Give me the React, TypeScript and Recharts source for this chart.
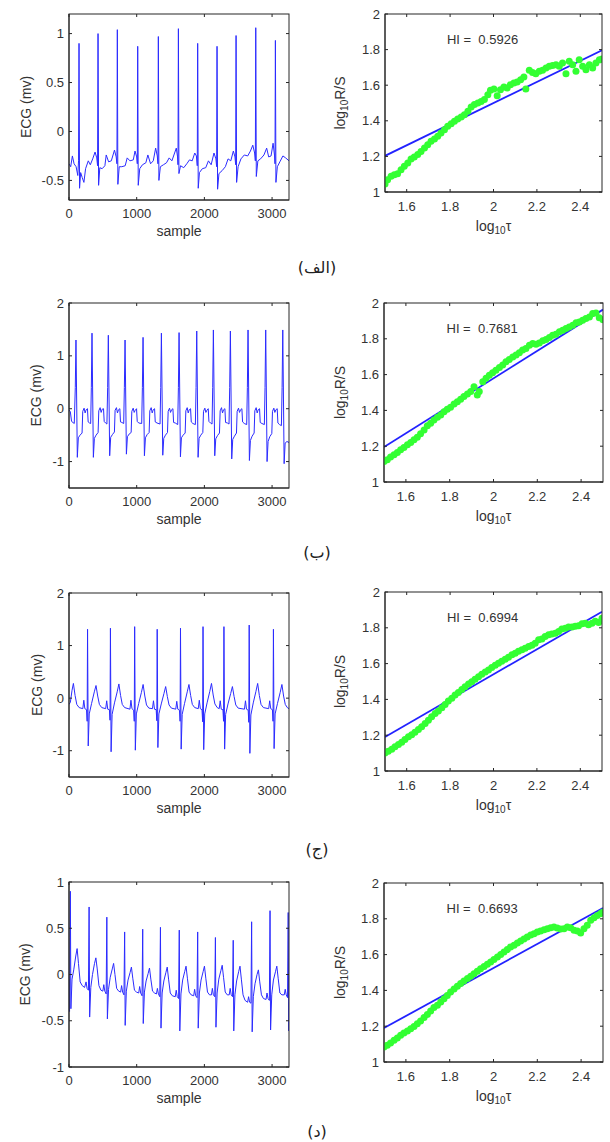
import React from 'react';
import { LineChart, Line, ComposedChart, Scatter, XAxis, YAxis, ReferenceDot, Label } from 'recharts';

const FONT = '"Liberation Sans", Arial, Helvetica, sans-serif';
const AXIS = '#262626';
const TXT = '#333333';
const ECG_BLUE = '#2b2bff';
const FIT_BLUE = '#2222ff';
const GREEN = '#33ff33';
const TL = 3; // inward tick length

// ---------- ECG traces: [sample, mV] ----------
const ecgA: [number, number][] = [
  [0,-0.33],[25,-0.36],[50,-0.25],[75,-0.33],[105,-0.36],[130,-0.45],[141,-0.3],
  [148,0.90],[156,-0.58],[172,-0.42],[195,-0.47],[220,-0.52],[245,-0.38],[285,-0.30],[315,-0.34],[350,-0.28],[385,-0.21],[410,-0.27],[422,-0.35],
  [429,1.00],[437,-0.55],[455,-0.37],[490,-0.38],[530,-0.35],[550,-0.24],[585,-0.31],[625,-0.30],[672,-0.19],[697,-0.26],[708,-0.33],
  [714,1.04],[722,-0.54],[742,-0.36],[780,-0.36],[830,-0.35],[860,-0.27],[900,-0.30],[950,-0.29],[975,-0.20],[1000,-0.26],[1009,-0.33],
  [1015,0.87],[1023,-0.55],[1045,-0.38],[1085,-0.34],[1135,-0.32],[1165,-0.24],[1205,-0.33],[1245,-0.30],[1280,-0.17],[1304,-0.25],[1314,-0.33],
  [1320,0.97],[1328,-0.50],[1350,-0.36],[1395,-0.34],[1440,-0.32],[1480,-0.27],[1520,-0.30],[1560,-0.22],[1585,-0.17],[1604,-0.26],[1610,-0.34],
  [1616,1.05],[1624,-0.43],[1648,-0.35],[1695,-0.37],[1740,-0.33],[1780,-0.29],[1820,-0.30],[1858,-0.22],[1882,-0.25],[1895,-0.35],
  [1901,0.90],[1909,-0.58],[1927,-0.42],[1970,-0.38],[2020,-0.37],[2060,-0.30],[2100,-0.34],[2142,-0.22],[2170,-0.28],[2181,-0.36],
  [2187,0.87],[2195,-0.59],[2215,-0.43],[2262,-0.40],[2310,-0.36],[2350,-0.28],[2390,-0.30],[2428,-0.20],[2452,-0.26],[2462,-0.34],
  [2468,0.98],[2476,-0.52],[2498,-0.36],[2540,-0.28],[2590,-0.24],[2640,-0.25],[2680,-0.20],[2715,-0.14],[2742,-0.22],[2753,-0.30],
  [2759,1.06],[2767,-0.46],[2790,-0.30],[2830,-0.28],[2880,-0.24],[2920,-0.17],[2950,-0.26],[2985,-0.25],[3015,-0.12],[3037,-0.25],[3043,-0.33],
  [3049,0.93],[3057,-0.52],[3078,-0.36],[3115,-0.31],[3160,-0.25],[3200,-0.27],[3250,-0.30],
];

const ecgB: [number, number][] = [
  [0,-0.02],[20,-0.06],[38,-0.24],[78,-0.28],[93,0.40],
  [103,1.30],[123,-0.92],[138,-0.55],[163,-0.50],[193,-0.46],[203,-0.05],[223,0.01],[238,-0.08],[253,-0.02],[273,0.00],[283,-0.25],[303,-0.27],[320,-0.28],[330,0.40],
  [340,1.43],[360,-0.92],[375,-0.56],[400,-0.50],[430,-0.45],[440,-0.04],[460,0.02],[475,-0.07],[490,-0.01],[510,0.00],[520,-0.24],[540,-0.27],[560,-0.29],[571,0.40],
  [581,1.39],[601,-0.89],[616,-0.54],[641,-0.49],[671,-0.44],[681,-0.03],[701,0.02],[716,-0.08],[731,-0.02],[751,0.00],[761,-0.25],[781,-0.26],[808,-0.28],[818,0.40],
  [828,1.30],[848,-0.86],[863,-0.53],[888,-0.48],[918,-0.45],[928,-0.05],[948,0.01],[963,-0.07],[978,-0.03],[998,0.00],[1008,-0.24],[1030,-0.27],[1074,-0.28],[1084,0.40],
  [1094,1.35],[1114,-0.89],[1129,-0.55],[1154,-0.49],[1184,-0.45],[1194,-0.04],[1214,0.02],[1229,-0.08],[1244,-0.02],[1264,0.00],[1274,-0.25],[1300,-0.27],[1345,-0.29],[1355,0.40],
  [1365,1.43],[1385,-0.88],[1400,-0.56],[1425,-0.50],[1455,-0.45],[1465,-0.05],[1485,0.01],[1500,-0.07],[1515,-0.02],[1535,0.00],[1545,-0.26],[1570,-0.27],[1606,-0.30],[1616,0.40],
  [1626,1.44],[1646,-0.91],[1661,-0.55],[1686,-0.50],[1716,-0.46],[1726,-0.04],[1746,0.02],[1761,-0.08],[1776,-0.02],[1796,0.00],[1806,-0.25],[1830,-0.28],[1867,-0.30],[1877,0.40],
  [1887,1.47],[1907,-0.92],[1922,-0.56],[1947,-0.50],[1977,-0.45],[1987,-0.05],[2007,0.01],[2022,-0.07],[2037,-0.03],[2057,0.00],[2067,-0.24],[2090,-0.27],[2113,-0.29],[2123,0.40],
  [2133,1.49],[2153,-0.89],[2168,-0.57],[2193,-0.51],[2223,-0.46],[2233,-0.04],[2253,0.02],[2268,-0.08],[2283,-0.02],[2303,0.00],[2313,-0.26],[2340,-0.27],[2364,-0.29],[2374,0.40],
  [2384,1.47],[2404,-0.95],[2419,-0.58],[2444,-0.52],[2474,-0.46],[2484,-0.05],[2504,0.01],[2519,-0.07],[2534,-0.02],[2554,0.00],[2564,-0.25],[2590,-0.28],[2625,-0.30],[2635,0.40],
  [2645,1.49],[2665,-0.98],[2680,-0.60],[2705,-0.52],[2735,-0.46],[2745,-0.04],[2765,0.02],[2780,-0.08],[2795,-0.02],[2815,0.00],[2825,-0.26],[2850,-0.28],[2886,-0.30],[2896,0.40],
  [2906,1.49],[2926,-1.00],[2941,-0.62],[2966,-0.53],[2996,-0.47],[3006,-0.05],[3026,0.01],[3041,-0.07],[3056,-0.02],[3076,0.00],[3086,-0.27],[3110,-0.30],[3138,-0.32],[3148,0.40],
  [3158,1.49],[3178,-1.04],[3193,-0.65],[3220,-0.62],[3250,-0.64],
];

const ecgC: [number, number][] = [
  [0,-0.12],[20,-0.08],[45,0.15],[65,0.28],[90,0.05],[115,-0.12],[150,-0.18],[204,-0.20],[219,-0.04],[234,-0.20],[259,-0.22],[268,-0.44],
  [274,1.31],[284,-0.91],[299,-0.30],[334,-0.10],[374,0.12],[399,0.24],[424,0.04],[449,-0.12],[484,-0.18],[542,-0.20],[557,-0.05],[572,-0.21],[597,-0.22],[606,-0.42],
  [612,1.33],[622,-1.02],[637,-0.31],[672,-0.09],[712,0.12],[737,0.27],[762,0.05],[787,-0.12],[822,-0.18],[900,-0.21],[915,-0.04],[930,-0.20],[955,-0.23],[964,-0.44],
  [970,1.36],[980,-0.99],[995,-0.30],[1030,-0.10],[1070,0.11],[1095,0.26],[1120,0.04],[1145,-0.13],[1180,-0.19],[1233,-0.20],[1248,-0.05],[1263,-0.21],[1288,-0.22],[1297,-0.43],
  [1303,1.31],[1313,-0.94],[1328,-0.30],[1363,-0.11],[1403,0.09],[1428,0.22],[1453,0.03],[1478,-0.13],[1513,-0.19],[1577,-0.21],[1592,-0.06],[1607,-0.21],[1632,-0.23],[1641,-0.44],
  [1647,1.33],[1657,-0.97],[1672,-0.31],[1707,-0.10],[1747,0.12],[1772,0.26],[1797,0.05],[1822,-0.12],[1857,-0.18],[1910,-0.20],[1925,-0.04],[1940,-0.20],[1965,-0.22],[1974,-0.45],
  [1980,1.36],[1990,-0.98],[2005,-0.30],[2040,-0.09],[2080,0.13],[2105,0.28],[2130,0.06],[2155,-0.11],[2190,-0.18],[2219,-0.20],[2234,-0.05],[2249,-0.21],[2274,-0.22],[2283,-0.44],
  [2289,1.36],[2299,-0.97],[2314,-0.31],[2349,-0.11],[2389,0.09],[2414,0.22],[2439,0.03],[2464,-0.13],[2499,-0.19],[2592,-0.21],[2607,-0.05],[2622,-0.21],[2647,-0.23],[2656,-0.46],
  [2662,1.39],[2672,-1.05],[2687,-0.32],[2722,-0.09],[2762,0.13],[2787,0.28],[2812,0.05],[2837,-0.12],[2872,-0.18],[2950,-0.20],[2965,-0.05],[2980,-0.20],[3005,-0.22],[3014,-0.44],
  [3020,1.31],[3030,-0.96],[3045,-0.30],[3080,-0.10],[3120,0.11],[3145,0.26],[3170,0.04],[3195,-0.12],[3225,-0.18],[3250,-0.20],
];

const ecgD: [number, number][] = [
  [0,-0.05],[8,-0.40],[14,0.40],[20,0.90],[28,-0.37],[45,-0.05],[70,0.05],[100,0.20],[120,0.28],[140,0.12],[165,-0.08],[195,-0.12],[230,-0.14],[252,-0.08],[267,-0.15],[287,-0.17],
  [297,0.73],[305,-0.46],[322,-0.14],[347,0.0],[377,0.12],[397,0.18],[417,0.06],[442,-0.12],[472,-0.17],[500,-0.18],[514,-0.11],[529,-0.18],[549,-0.21],
  [559,0.62],[567,-0.48],[584,-0.16],[609,-0.03],[639,0.06],[659,0.12],[679,0.0],[704,-0.15],[734,-0.18],[763,-0.19],[777,-0.12],[792,-0.19],[812,-0.22],
  [822,0.46],[830,-0.55],[847,-0.18],[872,-0.06],[902,0.02],[922,0.08],[942,-0.04],[967,-0.17],[997,-0.19],[1030,-0.20],[1044,-0.13],[1059,-0.20],[1079,-0.23],
  [1089,0.49],[1097,-0.53],[1114,-0.19],[1139,-0.07],[1169,0.01],[1189,0.07],[1209,-0.05],[1234,-0.18],[1264,-0.20],[1292,-0.21],[1306,-0.15],[1321,-0.21],[1341,-0.24],
  [1351,0.51],[1359,-0.58],[1376,-0.20],[1401,-0.07],[1431,0.02],[1451,0.08],[1471,-0.05],[1496,-0.20],[1526,-0.23],[1570,-0.24],[1584,-0.17],[1599,-0.24],[1619,-0.26],
  [1629,0.48],[1637,-0.61],[1654,-0.21],[1679,-0.06],[1709,0.03],[1729,0.09],[1749,-0.04],[1774,-0.19],[1804,-0.22],[1842,-0.23],[1856,-0.16],[1871,-0.23],[1891,-0.25],
  [1901,0.46],[1909,-0.58],[1926,-0.20],[1951,-0.06],[1981,0.03],[2001,0.09],[2021,-0.04],[2046,-0.19],[2076,-0.22],[2104,-0.22],[2118,-0.15],[2133,-0.22],[2153,-0.24],
  [2163,0.40],[2171,-0.57],[2188,-0.20],[2213,-0.05],[2243,0.04],[2263,0.10],[2283,-0.03],[2308,-0.19],[2338,-0.22],[2367,-0.22],[2381,-0.15],[2396,-0.22],[2416,-0.24],
  [2426,0.37],[2434,-0.61],[2451,-0.22],[2476,-0.07],[2506,0.03],[2526,0.09],[2546,-0.05],[2571,-0.22],[2601,-0.28],[2639,-0.30],[2653,-0.24],[2668,-0.30],[2688,-0.31],
  [2698,0.57],[2706,-0.62],[2723,-0.24],[2748,-0.10],[2778,0.0],[2798,0.05],[2818,-0.08],[2843,-0.22],[2873,-0.26],[2911,-0.27],[2925,-0.20],[2940,-0.26],[2960,-0.28],
  [2970,0.69],[2978,-0.60],[2995,-0.22],[3020,-0.06],[3050,0.03],[3070,0.09],[3090,-0.04],[3115,-0.20],[3145,-0.22],[3180,-0.22],[3194,-0.16],[3209,-0.22],[3228,-0.25],
  [3238,0.67],[3246,-0.61],[3250,-0.30],
];

const sampleTicks = [0, 1000, 2000, 3000];
const sampleMax = 3250;
const ecgYDomains: [number, number][] = [[-0.7, 1.2], [-1.5, 2], [-1.5, 2], [-1, 1]];
const ecgYTicks = [[-0.5, 0, 0.5, 1], [-1, 0, 1, 2], [-1, 0, 1, 2], [-1, -0.5, 0, 0.5, 1]];

// ---------- rescaled range: [log10 tau, log10 R/S] ----------
const rsA: [number, number][] = [
  [1.500,1.045],[1.512,1.069],[1.528,1.088],[1.543,1.097],[1.558,1.103],[1.574,1.125],[1.589,1.144],[1.605,1.163],[1.620,1.185],[1.635,1.197],
  [1.651,1.210],[1.666,1.228],[1.682,1.247],[1.697,1.266],[1.712,1.285],[1.728,1.298],[1.743,1.313],[1.758,1.331],[1.774,1.350],[1.789,1.369],
  [1.805,1.384],[1.820,1.397],[1.835,1.410],[1.851,1.421],[1.866,1.434],[1.882,1.453],[1.897,1.478],[1.912,1.491],[1.928,1.500],[1.943,1.509],
  [1.958,1.519],[1.974,1.547],[1.986,1.571],[2.002,1.579],[2.017,1.541],[2.032,1.575],[2.048,1.590],[2.063,1.584],[2.078,1.603],[2.094,1.612],
  [2.109,1.618],[2.125,1.631],[2.140,1.646],[2.149,1.579],[2.165,1.684],[2.180,1.672],[2.195,1.665],[2.211,1.678],[2.226,1.684],[2.242,1.697],
  [2.257,1.706],[2.272,1.710],[2.288,1.715],[2.303,1.706],[2.318,1.725],[2.334,1.665],[2.349,1.734],[2.365,1.715],[2.380,1.678],[2.395,1.743],
  [2.411,1.706],[2.426,1.687],[2.442,1.715],[2.457,1.697],[2.472,1.725],[2.488,1.743],[2.500,1.747],
];

const rsB: [number, number][] = [
  [1.500,1.115],[1.515,1.124],[1.530,1.139],[1.546,1.152],[1.561,1.165],[1.576,1.180],[1.591,1.193],[1.607,1.208],[1.622,1.221],[1.637,1.236],
  [1.652,1.250],[1.667,1.269],[1.683,1.291],[1.698,1.314],[1.713,1.328],[1.728,1.347],[1.744,1.362],[1.759,1.375],[1.774,1.393],[1.789,1.406],
  [1.804,1.417],[1.820,1.436],[1.835,1.449],[1.850,1.462],[1.865,1.477],[1.881,1.492],[1.896,1.505],[1.911,1.532],[1.926,1.486],[1.935,1.505],
  [1.951,1.560],[1.966,1.579],[1.981,1.597],[1.996,1.610],[2.011,1.625],[2.027,1.640],[2.042,1.653],[2.057,1.672],[2.072,1.685],[2.088,1.699],
  [2.103,1.709],[2.118,1.722],[2.133,1.737],[2.148,1.746],[2.164,1.764],[2.179,1.774],[2.194,1.770],[2.209,1.777],[2.225,1.789],[2.240,1.796],
  [2.255,1.807],[2.270,1.820],[2.285,1.826],[2.301,1.839],[2.316,1.848],[2.331,1.857],[2.346,1.866],[2.362,1.876],[2.377,1.889],[2.392,1.894],
  [2.407,1.904],[2.422,1.913],[2.438,1.922],[2.453,1.941],[2.468,1.944],[2.483,1.918],[2.500,1.907],
];

const rsC: [number, number][] = [
  [1.500,1.101],[1.515,1.110],[1.531,1.121],[1.546,1.135],[1.562,1.148],[1.577,1.161],[1.592,1.176],[1.608,1.191],[1.623,1.202],[1.638,1.217],
  [1.654,1.232],[1.669,1.247],[1.685,1.265],[1.700,1.284],[1.715,1.303],[1.731,1.321],[1.746,1.335],[1.762,1.353],[1.777,1.372],[1.792,1.391],
  [1.808,1.407],[1.823,1.424],[1.838,1.439],[1.854,1.456],[1.869,1.471],[1.885,1.486],[1.900,1.499],[1.915,1.512],[1.931,1.527],[1.946,1.540],
  [1.962,1.553],[1.977,1.564],[1.992,1.578],[2.008,1.591],[2.023,1.602],[2.038,1.613],[2.054,1.624],[2.069,1.636],[2.085,1.649],[2.100,1.658],
  [2.115,1.669],[2.131,1.677],[2.146,1.686],[2.162,1.695],[2.177,1.703],[2.192,1.714],[2.208,1.733],[2.223,1.738],[2.238,1.751],[2.254,1.761],
  [2.269,1.766],[2.285,1.770],[2.300,1.779],[2.315,1.793],[2.331,1.798],[2.346,1.804],[2.362,1.804],[2.377,1.808],[2.392,1.811],[2.408,1.822],
  [2.423,1.826],[2.438,1.817],[2.454,1.826],[2.469,1.836],[2.485,1.830],[2.500,1.854],
];

const rsD: [number, number][] = [
  [1.500,1.084],[1.515,1.093],[1.530,1.106],[1.546,1.121],[1.561,1.134],[1.576,1.149],[1.591,1.162],[1.607,1.173],[1.622,1.186],[1.637,1.199],
  [1.652,1.214],[1.667,1.229],[1.683,1.248],[1.698,1.266],[1.713,1.285],[1.728,1.304],[1.744,1.317],[1.759,1.335],[1.774,1.354],[1.789,1.372],
  [1.804,1.391],[1.820,1.408],[1.835,1.423],[1.850,1.438],[1.865,1.453],[1.881,1.466],[1.896,1.479],[1.911,1.493],[1.926,1.507],[1.941,1.521],
  [1.957,1.534],[1.972,1.546],[1.987,1.559],[2.002,1.572],[2.018,1.587],[2.033,1.601],[2.048,1.615],[2.063,1.628],[2.078,1.642],[2.094,1.652],
  [2.109,1.665],[2.124,1.676],[2.139,1.687],[2.154,1.698],[2.170,1.709],[2.185,1.717],[2.200,1.726],[2.215,1.732],[2.231,1.739],[2.246,1.745],
  [2.261,1.750],[2.276,1.754],[2.291,1.749],[2.307,1.743],[2.322,1.745],[2.337,1.754],[2.352,1.750],[2.368,1.736],[2.383,1.732],[2.398,1.721],
  [2.413,1.745],[2.428,1.764],[2.444,1.792],[2.459,1.806],[2.474,1.819],[2.489,1.829],[2.500,1.838],
];

// fitted lines: value at log10 tau = 1.5 and 2.5
const fitEnds: [number, number][] = [[1.203, 1.796], [1.195, 1.963], [1.19, 1.89], [1.19, 1.86]];
const hiValues = ['0.5926', '0.7681', '0.6994', '0.6693'];
const tauTicks = [1.6, 1.8, 2, 2.2, 2.4];
const rsYTicks = [1, 1.2, 1.4, 1.6, 1.8, 2];
const captions = ['(الف)', '(ب)', '(ج)', '(د)'];

// ---------- layout (pixels) ----------
const ecgLayout = [
  { top: 14, bottom: 200, labelX: 26 },
  { top: 303, bottom: 488, labelX: 36 },
  { top: 593, bottom: 777, labelX: 37 },
  { top: 882, bottom: 1067, labelX: 25 },
];
const rsLayout = [
  { left: 385, right: 602, top: 14, bottom: 192 },
  { left: 384, right: 603, top: 303, bottom: 482 },
  { left: 385, right: 602, top: 592, bottom: 771 },
  { left: 384, right: 603, top: 883, bottom: 1062 },
];
const captionY = [268, 553, 850, 1132];
const ECG_LEFT = 69;
const ECG_PLOT_W = 220;

const tickText = { fill: TXT, fontSize: 13, fontFamily: FONT };

// bottom tick: label plus inward marks on the bottom and top edges
const bottomTick = (gap: number, plotH: number) => (p: any) => {
  const ay = p.y - gap;
  return (
    <g>
      <line x1={p.x} x2={p.x} y1={ay} y2={ay - TL} stroke={AXIS} />
      <line x1={p.x} x2={p.x} y1={ay - plotH} y2={ay - plotH + TL} stroke={AXIS} />
      <text x={p.x} y={p.y} textAnchor="middle" dominantBaseline="central" {...tickText}>
        {p.payload.value}
      </text>
    </g>
  );
};
// left tick: label plus inward marks on the left and right edges
const leftTick = (gap: number, plotW: number) => (p: any) => {
  const ax = p.x + gap;
  return (
    <g>
      <line x1={ax} x2={ax + TL} y1={p.y} y2={p.y} stroke={AXIS} />
      <line x1={ax + plotW} x2={ax + plotW - TL} y1={p.y} y2={p.y} stroke={AXIS} />
      <text x={p.x} y={p.y} textAnchor="end" dominantBaseline="central" {...tickText}>
        {p.payload.value}
      </text>
    </g>
  );
};

// props handed to recharts are built once, so they stay stable between renders
const ecgRows = [ecgA, ecgB, ecgC, ecgD].map((s) => s.map(([x, y]) => ({ x, y })));
const rsRows = [rsA, rsB, rsC, rsD].map((s) => s.map(([x, y]) => ({ x, y })));
const fitRows = fitEnds.map(([a, b]) => [{ x: 1.5, y: a }, { x: 2.5, y: b }]);
const ecgBottomTicks = ecgLayout.map((L) => bottomTick(13, L.bottom - L.top));
const ecgLeftTicks = ecgLayout.map(() => leftTick(5, ECG_PLOT_W));
const rsBottomTicks = rsLayout.map((L) => bottomTick(14, L.bottom - L.top));
const rsLeftTicks = rsLayout.map((L) => leftTick(5, L.right - L.left));

const sampleLabel = (p: any) => (
  <text x={p.viewBox.x + p.viewBox.width / 2} y={p.viewBox.y + 31} textAnchor="middle"
    dominantBaseline="central" fill={TXT} fontSize={14} fontFamily={FONT}>sample</text>
);
const ecgYLabels = ecgLayout.map((L) => (p: any) => (
  <text transform={`translate(${L.labelX},${p.viewBox.y + p.viewBox.height / 2}) rotate(-90)`}
    textAnchor="middle" dominantBaseline="central" fill={TXT} fontSize={14} fontFamily={FONT}>ECG (mv)</text>
));
const tauLabel = (p: any) => (
  <text x={p.viewBox.x + p.viewBox.width / 2} y={p.viewBox.y + 34} textAnchor="middle"
    dominantBaseline="central" fill={TXT} fontSize={14} fontFamily={FONT}>
    log<tspan fontSize={10} dy={4}>10</tspan><tspan dy={-4}>τ</tspan>
  </text>
);
const rsYLabels = rsLayout.map((L) => (p: any) => (
  <text transform={`translate(${340 - (L.left - 80)},${p.viewBox.y + p.viewBox.height / 2}) rotate(-90)`}
    textAnchor="middle" dominantBaseline="central" fill={TXT} fontSize={14} fontFamily={FONT}>
    log<tspan fontSize={10} dy={4}>10</tspan><tspan dy={-4}>R/S</tspan>
  </text>
));
const hiLabels = hiValues.map((v) => (
  <Label content={(p: any) => (
    <text x={p.viewBox.x} y={p.viewBox.y} dominantBaseline="central" fill={TXT} fontSize={13}
      fontFamily={FONT} style={{ whiteSpace: 'pre' }}>{`HI =  ${v}`}</text>
  )} />
));
const greenDot = (p: any) => <circle cx={p.cx} cy={p.cy} r={3.5} fill={GREEN} />;
const axisLine = { stroke: AXIS };
const ecgMargin = { top: 10, right: 12, left: 0, bottom: 0 };
const rsMargin = { top: 10, right: 6, left: 0, bottom: 0 };

const EcgPanel = ({ idx }: { idx: number }) => {
  const L = ecgLayout[idx];
  const padB = 45;
  const plotH = L.bottom - L.top;
  return (
    <div style={{ position: 'absolute', left: 0, top: L.top - ecgMargin.top }}>
      <LineChart width={ECG_LEFT + ECG_PLOT_W + ecgMargin.right} height={ecgMargin.top + plotH + padB}
        data={ecgRows[idx]} margin={ecgMargin}>
        <XAxis dataKey="x" type="number" domain={[0, sampleMax]} ticks={sampleTicks} allowDataOverflow
          height={padB} tickSize={0} tickMargin={13} axisLine={axisLine} tick={ecgBottomTicks[idx]}>
          <Label content={sampleLabel} />
        </XAxis>
        <YAxis type="number" domain={ecgYDomains[idx]} ticks={ecgYTicks[idx]} allowDataOverflow
          width={ECG_LEFT} tickSize={0} tickMargin={5} axisLine={axisLine} tick={ecgLeftTicks[idx]}>
          <Label content={ecgYLabels[idx]} />
        </YAxis>
        <Line dataKey="y" type="linear" stroke={ECG_BLUE} strokeWidth={1} dot={false} activeDot={false}
          isAnimationActive={false} />
      </LineChart>
    </div>
  );
};

const RsPanel = ({ idx }: { idx: number }) => {
  const L = rsLayout[idx];
  const padL = 80, padB = 48;
  const plotW = L.right - L.left;
  const plotH = L.bottom - L.top;
  return (
    <div style={{ position: 'absolute', left: L.left - padL, top: L.top - rsMargin.top }}>
      <ComposedChart width={padL + plotW + rsMargin.right} height={rsMargin.top + plotH + padB} margin={rsMargin}>
        <XAxis dataKey="x" type="number" domain={[1.5, 2.5]} ticks={tauTicks} allowDataOverflow
          height={padB} tickSize={0} tickMargin={14} axisLine={axisLine} tick={rsBottomTicks[idx]}>
          <Label content={tauLabel} />
        </XAxis>
        <YAxis dataKey="y" type="number" domain={[1, 2]} ticks={rsYTicks} allowDataOverflow
          width={padL} tickSize={0} tickMargin={5} axisLine={axisLine} tick={rsLeftTicks[idx]}>
          <Label content={rsYLabels[idx]} />
        </YAxis>
        <Scatter data={rsRows[idx]} fill={GREEN} isAnimationActive={false} shape={greenDot} />
        <Line data={fitRows[idx]} dataKey="y" type="linear" stroke={FIT_BLUE} strokeWidth={1.8} dot={false}
          activeDot={false} isAnimationActive={false} />
        <ReferenceDot x={1.79} y={1.85} r={1} fill="none" stroke="none" label={hiLabels[idx]} />
      </ComposedChart>
    </div>
  );
};

// axes boxes (MATLAB "box on"): plain frame drawn over each plot area
const Frames = () => (
  <svg width={610} height={1142} style={{ position: 'absolute', left: 0, top: 0, pointerEvents: 'none' }}>
    {ecgLayout.map((L, i) => (
      <rect key={`e${i}`} x={ECG_LEFT} y={L.top} width={ECG_PLOT_W} height={L.bottom - L.top}
        fill="none" stroke={AXIS} strokeWidth={1} />
    ))}
    {rsLayout.map((L, i) => (
      <rect key={`r${i}`} x={L.left} y={L.top} width={L.right - L.left} height={L.bottom - L.top}
        fill="none" stroke={AXIS} strokeWidth={1} />
    ))}
  </svg>
);

export default function App() {
  return (
    <div style={{ position: 'absolute', left: 0, top: 0, width: 610, height: 1142, background: '#fff', overflow: 'hidden' }}>
      {[0, 1, 2, 3].map((i) => (
        <React.Fragment key={i}>
          <EcgPanel idx={i} />
          <RsPanel idx={i} />
          <div dir="rtl" style={{
            position: 'absolute', left: 267, width: 100, top: captionY[i] - 11, height: 22, lineHeight: '22px',
            textAlign: 'center', fontSize: 16, fontFamily: '"DejaVu Sans", "Noto Sans", sans-serif', color: '#222',
          }}>{captions[i]}</div>
        </React.Fragment>
      ))}
      <Frames />
    </div>
  );
}
